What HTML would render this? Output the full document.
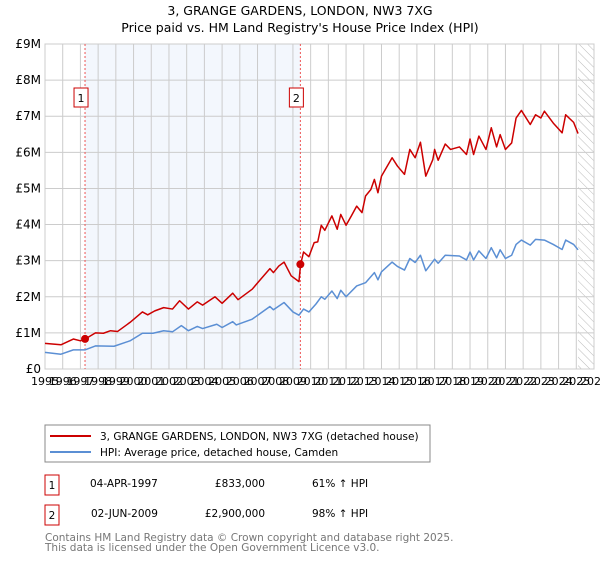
<!DOCTYPE html>
<html><head><meta charset="utf-8"><style>
body{margin:0;background:#fff;font-family:"DejaVu Sans","Liberation Sans",sans-serif;}
svg text{font-family:"DejaVu Sans","Liberation Sans",sans-serif;}
</style></head><body>
<svg id="c" width="600" height="560" xmlns="http://www.w3.org/2000/svg">
<text x="300" y="15" text-anchor="middle" font-size="12.5">3, GRANGE GARDENS, LONDON, NW3 7XG</text>
<text x="300" y="32" text-anchor="middle" font-size="12.5">Price paid vs. HM Land Registry's House Price Index (HPI)</text>
<g id="plot"></g>
<rect x="45" y="425" width="385" height="37" fill="#fff" stroke="#888"/>
<line x1="50" y1="436" x2="91" y2="436" stroke="#cc0000" stroke-width="2"/>
<text x="100" y="440" font-size="10.5">3, GRANGE GARDENS, LONDON, NW3 7XG (detached house)</text>
<line x1="50" y1="452" x2="91" y2="452" stroke="#5b8fd4" stroke-width="2"/>
<text x="100" y="456" font-size="10.5">HPI: Average price, detached house, Camden</text>
<g font-size="10.5">
<rect x="45" y="475" width="14" height="20" fill="#fff" stroke="#cc0000"/><text x="52" y="489" text-anchor="middle">1</text>
<text x="90" y="487">04-APR-1997</text><text x="265" y="487" text-anchor="end">£833,000</text><text x="312" y="487">61% ↑ HPI</text>
<rect x="45" y="505" width="14" height="20" fill="#fff" stroke="#cc0000"/><text x="52" y="519" text-anchor="middle">2</text>
<text x="91" y="517">02-JUN-2009</text><text x="265" y="517" text-anchor="end">£2,900,000</text><text x="312" y="517">98% ↑ HPI</text>
</g>
<text x="45" y="541" font-size="10.5" fill="#777">Contains HM Land Registry data © Crown copyright and database right 2025.</text>
<text x="45" y="551" font-size="10.5" fill="#777">This data is licensed under the Open Government Licence v3.0.</text>
</svg>
<script>
const priceYears=[1995,1995.9,1996.6,1997,1997.27,1997.85,1998.3,1998.7,1999.1,1999.8,2000.5,2000.8,2001.2,2001.7,2002.2,2002.6,2003.1,2003.6,2003.9,2004.6,2005.0,2005.6,2005.9,2006.7,2007.1,2007.7,2007.9,2008.2,2008.5,2008.9,2009.34,2009.43,2009.6,2009.9,2010.2,2010.4,2010.6,2010.8,2011.2,2011.5,2011.7,2012.0,2012.3,2012.6,2012.9,2013.1,2013.4,2013.6,2013.8,2014.0,2014.6,2014.9,2015.3,2015.6,2015.9,2016.2,2016.5,2016.9,2017.0,2017.2,2017.6,2017.9,2018.4,2018.8,2019.0,2019.2,2019.5,2019.9,2020.2,2020.5,2020.7,2021.0,2021.35,2021.6,2021.9,2022.4,2022.7,2023.0,2023.2,2023.7,2024.2,2024.4,2024.85,2025.1];
const priceValues=[0.71,0.67,0.83,0.78,0.83,1.0,0.99,1.06,1.04,1.29,1.58,1.5,1.61,1.7,1.66,1.89,1.66,1.86,1.77,2.0,1.82,2.1,1.92,2.21,2.44,2.78,2.67,2.85,2.96,2.58,2.42,2.89,3.24,3.11,3.5,3.52,3.98,3.84,4.24,3.87,4.28,3.98,4.24,4.51,4.33,4.79,4.97,5.25,4.88,5.34,5.85,5.62,5.39,6.08,5.85,6.28,5.34,5.8,6.08,5.78,6.23,6.08,6.15,5.94,6.37,5.94,6.45,6.08,6.68,6.15,6.49,6.08,6.26,6.95,7.16,6.77,7.04,6.95,7.14,6.81,6.54,7.04,6.83,6.52];
const hpiYears=[1995,1995.9,1996.6,1997.27,1997.85,1998.9,1999.8,2000.5,2001.1,2001.7,2002.2,2002.7,2003.1,2003.6,2003.9,2004.7,2005.0,2005.6,2005.8,2006.7,2007.1,2007.7,2007.9,2008.5,2009.0,2009.34,2009.6,2009.9,2010.3,2010.6,2010.8,2011.2,2011.5,2011.7,2012.0,2012.6,2013.1,2013.6,2013.8,2014.0,2014.6,2014.9,2015.3,2015.6,2015.9,2016.2,2016.5,2017.0,2017.2,2017.6,2018.4,2018.8,2019.0,2019.2,2019.5,2019.9,2020.2,2020.5,2020.7,2021.0,2021.35,2021.6,2021.9,2022.4,2022.7,2023.2,2023.7,2024.2,2024.4,2024.85,2025.1];
const hpiValues=[0.46,0.41,0.53,0.53,0.64,0.63,0.78,0.99,0.99,1.06,1.03,1.2,1.06,1.18,1.12,1.24,1.15,1.31,1.22,1.38,1.52,1.73,1.64,1.84,1.58,1.49,1.66,1.58,1.8,2.0,1.93,2.16,1.95,2.18,2.0,2.3,2.39,2.67,2.47,2.69,2.96,2.84,2.74,3.06,2.95,3.15,2.72,3.04,2.93,3.15,3.13,3.02,3.24,3.02,3.27,3.06,3.36,3.08,3.3,3.06,3.15,3.45,3.57,3.43,3.59,3.57,3.45,3.31,3.57,3.45,3.3];
const saleYears=[1997.26,2009.42];
const saleValues=[0.833,2.9];
const saleLabels=["1","2"];
const yTicks=[0,1,2,3,4,5,6,7,8,9];
const yTickLabels=["£0","£1M","£2M","£3M","£4M","£5M","£6M","£7M","£8M","£9M"];
const xStart=1995,xEnd=2026,dataEnd=2025.1;

const L=45,R=594,T=44,B=369;
const X=y=>L+(y-xStart)/(xEnd-xStart)*(R-L);
const Y=v=>B-v/9*(B-T);
const NS="http://www.w3.org/2000/svg";
const g=document.getElementById('plot');
function mk(t,a,p){const e=document.createElementNS(NS,t);for(const k in a)e.setAttribute(k,a[k]);(p||g).appendChild(e);return e;}

const defs=mk('defs',{});
const pat=mk('pattern',{id:'hatch',width:6,height:6,patternUnits:'userSpaceOnUse',patternTransform:'rotate(-45)'},defs);
mk('line',{x1:0,y1:0,x2:0,y2:6,stroke:'#bbb','stroke-width':1},pat);

let sh=mk('rect',{x:X(saleYears[0]),y:T,width:X(saleYears[1])-X(saleYears[0]),height:B-T,fill:'#eef3fc',opacity:0.7});


let ht=mk('rect',{x:X(dataEnd),y:T,width:R-X(dataEnd),height:B-T,fill:'url(#hatch)'});



for(let yr=xStart;yr<=xEnd;yr++){
 let l=mk('line',{x1:X(yr),y1:T,x2:X(yr),y2:B,stroke:'#ccc','stroke-width':1});
 
 
 let t=mk('text',{x:X(yr),y:B+16,'font-size':11,'text-anchor':'middle'});
 t.textContent=yr;
 
 
}
yTicks.forEach((v,i)=>{
 let l=mk('line',{x1:L,y1:Y(v),x2:R,y2:Y(v),stroke:'#ccc','stroke-width':1});
 
 
 let t=mk('text',{x:L-4,y:Y(v)+4,'font-size':12,'text-anchor':'end'});
 t.textContent=yTickLabels[i];
 
 
});
let ax=mk('rect',{x:L,y:T,width:R-L,height:B-T,fill:'none',stroke:'#ccc'});



saleYears.forEach((yr,i)=>{
 let l=mk('line',{x1:X(yr),y1:T,x2:X(yr),y2:B,stroke:'#ee5555','stroke-dasharray':'2,2','stroke-width':1});
 
 
});

function line(xs,vs,col,name){
 const p=mk('polyline',{points:xs.map((x,i)=>X(x)+','+Y(vs[i])).join(' '),fill:'none',stroke:col,'stroke-width':1.5,'stroke-linejoin':'round'});
 
 
}
line(hpiYears,hpiValues,'#5b8fd4','hpi-line');
line(priceYears,priceValues,'#cc0000','price-line');

saleYears.forEach((yr,i)=>{
 let c=mk('circle',{cx:X(yr),cy:Y(saleValues[i]),r:4,fill:'#cc0000'});
 
 
 let r=mk('rect',{x:X(yr)-11,y:88,width:14,height:19,fill:'#fff',stroke:'#cc0000'});
 
 
 let t=mk('text',{x:X(yr)-4,y:102,'font-size':11,'text-anchor':'middle'});
 t.textContent=saleLabels[i];
 
 
});
</script>
</body></html>
